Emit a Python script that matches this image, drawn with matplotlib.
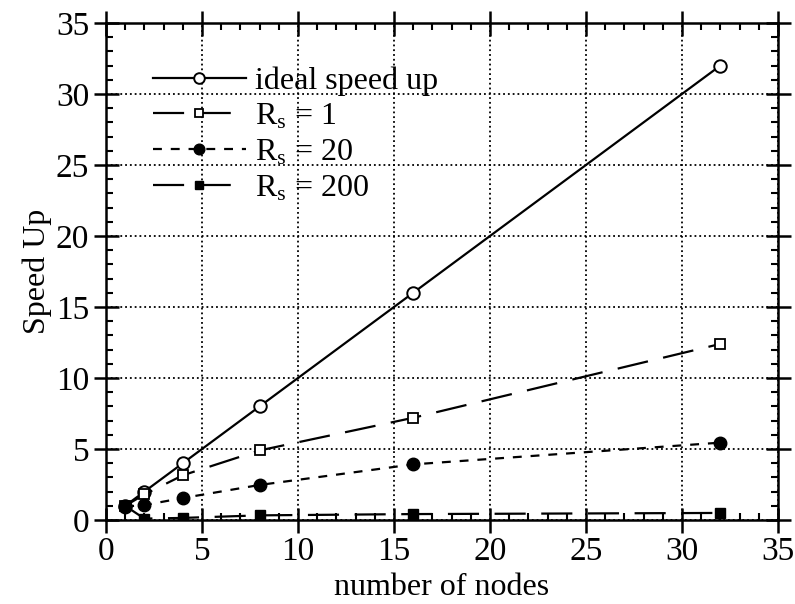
import matplotlib
matplotlib.use('Agg')
import matplotlib.pyplot as plt
from matplotlib.ticker import MultipleLocator

# Times-like look
plt.rcParams['font.family'] = ['Liberation Serif', 'DejaVu Serif']
plt.rcParams['mathtext.fontset'] = 'custom'
plt.rcParams['mathtext.rm'] = 'Liberation Serif'
plt.rcParams['mathtext.it'] = 'Liberation Serif:italic'

nodes = [1, 2, 4, 8, 16, 32]
ideal = [1, 2, 4, 8, 16, 32]
rs_1 = [1.0, 1.8, 3.15, 4.9, 7.2, 12.4]
rs_20 = [0.95, 1.05, 1.55, 2.47, 3.92, 5.45]
rs_200 = [1.0, 0.1, 0.15, 0.33, 0.42, 0.5]
labels = ['ideal speed up', r'$\mathregular{R_s}$ = 1',
          r'$\mathregular{R_s}$ = 20', r'$\mathregular{R_s}$ = 200']

fig = plt.figure(figsize=(7.95, 6.04), dpi=100)
ax = fig.add_axes([0.1333, 0.139, 0.8453, 0.823])

ax.plot(nodes, ideal, '-', color='black', lw=1.6, marker='o', ms=9,
        mfc='white', mec='black', mew=1.4, label=labels[0])
ax.plot(nodes, rs_1, color='black', lw=1.6, dashes=(14, 7), marker='s', ms=7,
        mfc='white', mec='black', mew=1.3, label=labels[1])
ax.plot(nodes, rs_20, color='black', lw=1.6, dashes=(4, 4), marker='o', ms=9,
        mfc='black', mec='black', label=labels[2])
ax.plot(nodes, rs_200, color='black', lw=1.6, dashes=(14, 7), marker='s', ms=7,
        mfc='black', mec='black', label=labels[3])

ax.set_xlim(0, 35)
ax.set_ylim(0, 35)
ax.xaxis.set_major_locator(MultipleLocator(5))
ax.yaxis.set_major_locator(MultipleLocator(5))
ax.xaxis.set_minor_locator(MultipleLocator(1))
ax.yaxis.set_minor_locator(MultipleLocator(1))
ax.tick_params(which='major', direction='inout', length=18, width=1.8,
               top=True, right=True, labelsize=24, pad=3)
ax.tick_params(which='minor', direction='in', length=5, width=1.5,
               top=True, right=True)
for s in ax.spines.values():
    s.set_linewidth(1.8)
ax.grid(True, which='major', color='black', linestyle=':', lw=1.3)

ax.set_xlabel('number of nodes', fontsize=23, labelpad=4)
ax.set_ylabel('Speed Up', fontsize=23, labelpad=3)

ax.legend(loc='upper left', frameon=False, fontsize=23, handlelength=2.9,
          handletextpad=0.3, labelspacing=0.2, borderaxespad=0, borderpad=0,
          markerscale=0.85, bbox_to_anchor=(0.07, 0.913))

fig.savefig('out.png', dpi=100)
